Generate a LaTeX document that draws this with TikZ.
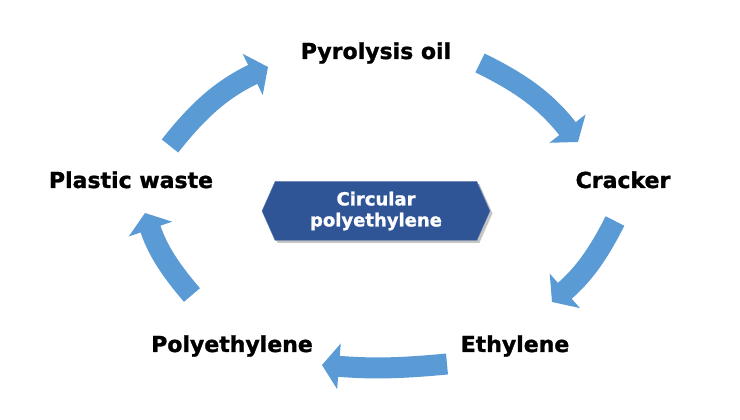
\documentclass[tikz,border=0pt]{standalone}
\usepackage{fontspec}
\setmainfont{DejaVu Sans}
\newfontfamily\heavyfont{DejaVu Sans Bold}[FakeBold=1.3]
\usepackage{tikz}
\usetikzlibrary{arrows.meta, positioning, shapes.symbols, shadows}
\definecolor{flowblue}{RGB}{91,155,213}
\definecolor{hubblue}{RGB}{47,85,151}

\begin{document}
\begin{tikzpicture}[
  x=1pt, y=1pt,
  stage/.style={anchor=base, inner sep=0pt, font=\fontsize{22}{26}\heavyfont},
  flow/.style={-{Triangle[width=45pt, length=17pt]}, line width=21pt, flowblue, bend left=#1},
  flow/.default=12,
  hub/.style={signal, signal to=west and east, signal pointer angle=132, fill=hubblue, draw=hubblue!75!white,
    minimum width=228pt, minimum height=59pt, inner sep=2pt, text=white, align=center,
    font=\fontsize{18}{21}\heavyfont, drop shadow={shadow xshift=2.5pt, shadow yshift=-2.5pt, opacity=0.45}}
]
  \useasboundingbox[fill=white] (0,0) rectangle (740,420);

  % stages of the loop
  \node[stage] (pyro)     at (376,361) {Pyrolysis oil};
  \node[stage] (cracker)  at (623,232) {Cracker};
  \node[stage] (ethylene) at (515,68)  {Ethylene};
  \node[stage] (poly)     at (232,68)  {Polyethylene};
  \node[stage] (waste)    at (131,232) {Plastic waste};

  \node[hub] (circ) at (376,209) {Circular\\polyethylene};

  % arrow ends
  \coordinate (waste-out)    at (170,274);
  \coordinate (pyro-in)      at (268,353);
  \coordinate (pyro-out)     at (480,357);
  \coordinate (cracker-in)   at (578,278);
  \coordinate (cracker-out)  at (615,199);
  \coordinate (ethylene-in)  at (552,118);
  \coordinate (ethylene-out) at (447,56);
  \coordinate (poly-in)      at (322,55);
  \coordinate (poly-out)     at (192,125);
  \coordinate (waste-in)     at (145,207);

  \draw[flow=13] (waste-out) to (pyro-in);
  \draw[flow=13] (pyro-out) to (cracker-in);
  \draw[flow=11] (cracker-out) to (ethylene-in);
  \draw[flow=5] (ethylene-out) to (poly-in);
  \draw[flow=11] (poly-out) to (waste-in);
\end{tikzpicture}
\end{document}
